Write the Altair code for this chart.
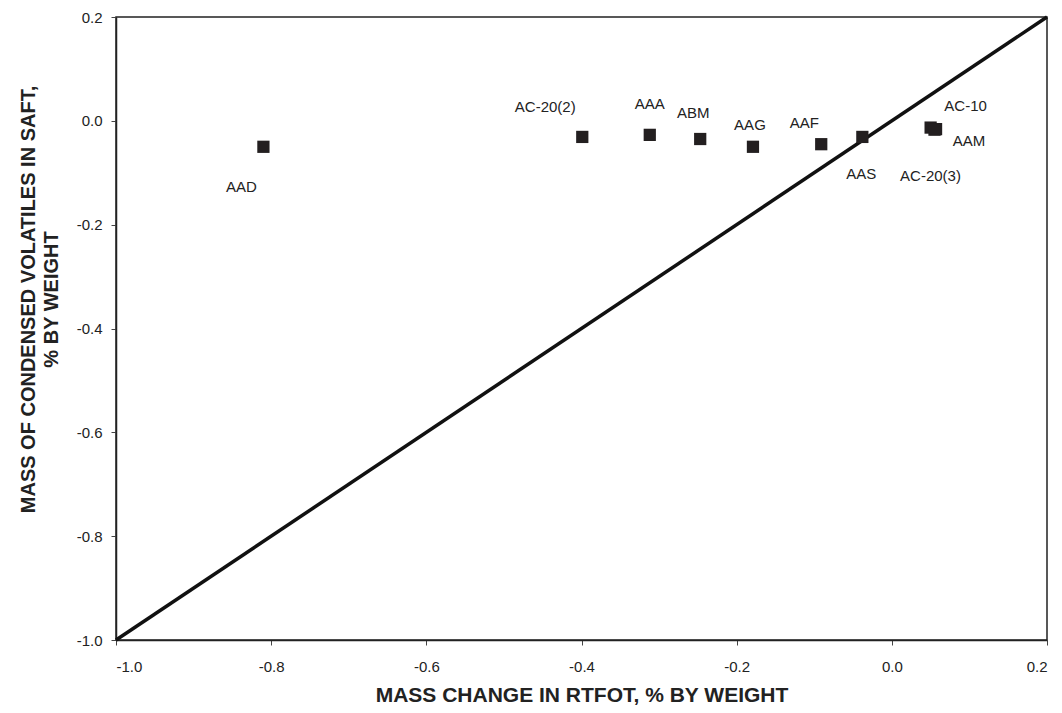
import altair as alt
import pandas as pd

names = ["AAD", "AC-20(2)", "AAA", "ABM", "AAG", "AAF", "AAS", "AC-10", "AAM", "AC-20(3)"]
rtfot = [-0.810, -0.399, -0.312, -0.247, -0.179, -0.091, -0.038, 0.050, 0.057, 0.055]
saft = [-0.050, -0.031, -0.027, -0.035, -0.050, -0.045, -0.031, -0.013, -0.016, -0.017]

diag_x = [-1.0, 0.2]
diag_y = [-1.0, 0.2]

tick_values = [-1.0, -0.8, -0.6, -0.4, -0.2, 0.0, 0.2]

# label offsets in pixels (dx, dy) relative to the point
label_offsets = {
    "AAD": (-22, 40),
    "AC-20(2)": (-37, -30),
    "AAA": (0, -31),
    "ABM": (-7, -26),
    "AAG": (-3, -22),
    "AAF": (-17, -21),
    "AAS": (-1, 37),
    "AC-10": (35, -22),
    "AAM": (33, 12),
    "AC-20(3)": (-4, 46),
}

df = pd.DataFrame({"name": names, "x": rtfot, "y": saft})
diag = pd.DataFrame({"x": diag_x, "y": diag_y})

xscale = alt.Scale(domain=[-1.0, 0.2], nice=False, zero=False)
yscale = alt.Scale(domain=[-1.0, 0.2], nice=False, zero=False)

label_expr = "replace(format(datum.value, '.1f'), '\u2212', '-')"

xaxis = alt.Axis(
    title="MASS CHANGE IN RTFOT, % BY WEIGHT",
    values=tick_values, labelExpr=label_expr,
    grid=False, tickSize=5, labelPadding=14,
    titleY=55, titleBaseline="middle", titleFontSize=21,
)
yaxis = alt.Axis(
    title=["MASS OF CONDENSED VOLATILES IN SAFT,", "% BY WEIGHT"],
    values=tick_values, labelExpr=label_expr,
    grid=False, tickSize=5, labelPadding=9,
    titleX=-78, titleY=282, titleLineHeight=23,
)

line = alt.Chart(diag).mark_line(color="#111111", strokeWidth=3.5).encode(
    x=alt.X("x:Q", scale=xscale, axis=xaxis),
    y=alt.Y("y:Q", scale=yscale, axis=yaxis),
)

pts = alt.Chart(df).mark_square(size=150, color="#231f20", opacity=1).encode(
    x=alt.X("x:Q", scale=xscale),
    y=alt.Y("y:Q", scale=yscale),
)

layers = [line, pts]
for n in names:
    dx, dy = label_offsets[n]
    layers.append(
        alt.Chart(df).transform_filter(alt.datum.name == n).mark_text(
            dx=dx, dy=dy, fontSize=15, font="Liberation Sans", color="#222222",
            align="center", baseline="middle",
        ).encode(
            x=alt.X("x:Q", scale=xscale),
            y=alt.Y("y:Q", scale=yscale),
            text="name:N",
        )
    )

chart = alt.layer(*layers).properties(
    width=931, height=623,
    autosize=alt.AutoSizeParams(type="none"),
    padding={"left": 108, "top": 9, "right": 7, "bottom": 73},
).configure_view(
    stroke="#222222", strokeWidth=1.5,
).configure_axis(
    domainColor="#222222", domainWidth=1.5,
    tickColor="#444444", tickWidth=1,
    labelFont="Liberation Sans", labelFontSize=15, labelColor="#222222",
    titleFont="Liberation Sans", titleFontSize=20, titleFontWeight="bold",
    titleColor="#222222",
)

chart.save("out.html", embed_options={"renderer": "svg", "actions": False})
